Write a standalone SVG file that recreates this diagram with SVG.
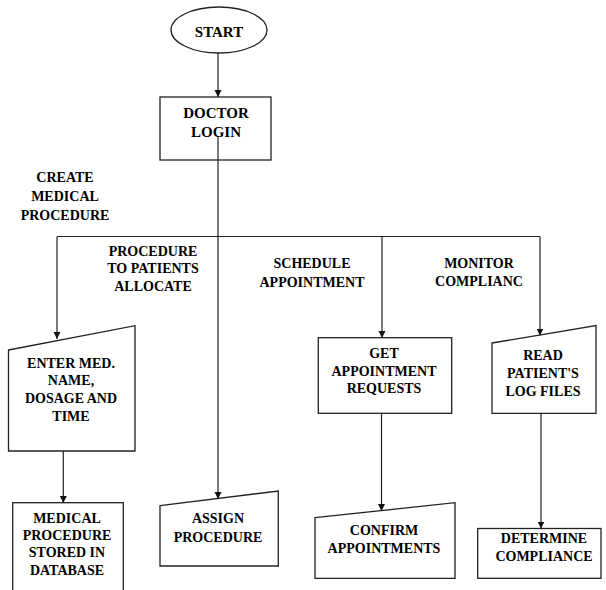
<svg xmlns="http://www.w3.org/2000/svg" width="606" height="590" viewBox="0 0 606 590">
  <defs>
    <marker id="arrow" markerUnits="userSpaceOnUse" markerWidth="8" markerHeight="8" refX="7" refY="3.5" orient="auto">
      <path d="M0,0 L7,3.5 L0,7 z" fill="#111"/>
    </marker>
  </defs>

  <rect width="606" height="590" fill="#fff"/>

  <!-- node outlines share one stroke -->
  <g fill="#fff" stroke="#222" stroke-width="1.3">
    <g id="start"><ellipse cx="219" cy="30" rx="48" ry="23"/></g>
    <g id="doctor-login"><rect x="160" y="97" width="111" height="63"/></g>
    <g id="enter-med"><polygon points="8.5,350 135,325.7 135,451 8.5,451"/></g>
    <g id="stored-in-db"><rect x="12.7" y="502.7" width="110.6" height="95"/></g>
    <g id="assign-procedure"><polygon points="160,505.7 278.3,491 278.3,566 160,566"/></g>
    <g id="get-requests"><rect x="318.3" y="337.7" width="133.4" height="75.6"/></g>
    <g id="confirm-appointments"><polygon points="315,517.7 455,502.7 455,578.3 315,578.3"/></g>
    <g id="read-logs"><polygon points="492,343 596,325.5 596,413.3 492,413.3"/></g>
    <g id="determine-compliance"><rect x="477.7" y="528.5" width="123.3" height="49.8"/></g>
  </g>

  <g id="labels">
    <text style="font-family:'Liberation Serif',serif;font-weight:bold;font-size:15px;text-anchor:middle" x="219" y="37">START</text>
    <text style="font-family:'Liberation Serif',serif;font-weight:bold;font-size:15px;text-anchor:middle" x="216" y="118">DOCTOR</text>
    <text style="font-family:'Liberation Serif',serif;font-weight:bold;font-size:15px;text-anchor:middle" x="216" y="137">LOGIN</text>

    <text style="font-family:'Liberation Serif',serif;font-weight:bold;font-size:14px;text-anchor:middle" x="71" y="368.3">ENTER MED.</text>
    <text style="font-family:'Liberation Serif',serif;font-weight:bold;font-size:14px;text-anchor:middle" x="71" y="385">NAME,</text>
    <text style="font-family:'Liberation Serif',serif;font-weight:bold;font-size:14px;text-anchor:middle" x="71" y="402.7">DOSAGE AND</text>
    <text style="font-family:'Liberation Serif',serif;font-weight:bold;font-size:14px;text-anchor:middle" x="71" y="420.7">TIME</text>

    <text style="font-family:'Liberation Serif',serif;font-weight:bold;font-size:14px;text-anchor:middle" x="67" y="522.7">MEDICAL</text>
    <text style="font-family:'Liberation Serif',serif;font-weight:bold;font-size:14px;text-anchor:middle" x="67" y="540">PROCEDURE</text>
    <text style="font-family:'Liberation Serif',serif;font-weight:bold;font-size:14px;text-anchor:middle" x="67" y="557.3">STORED IN</text>
    <text style="font-family:'Liberation Serif',serif;font-weight:bold;font-size:14px;text-anchor:middle" x="67" y="575">DATABASE</text>

    <text style="font-family:'Liberation Serif',serif;font-weight:bold;font-size:14px;text-anchor:middle" x="218" y="523.3">ASSIGN</text>
    <text style="font-family:'Liberation Serif',serif;font-weight:bold;font-size:14px;text-anchor:middle" x="218" y="541.7">PROCEDURE</text>

    <text style="font-family:'Liberation Serif',serif;font-weight:bold;font-size:14px;text-anchor:middle" x="384" y="357.7">GET</text>
    <text style="font-family:'Liberation Serif',serif;font-weight:bold;font-size:14px;text-anchor:middle" x="384" y="375.7">APPOINTMENT</text>
    <text style="font-family:'Liberation Serif',serif;font-weight:bold;font-size:14px;text-anchor:middle" x="384" y="393.3">REQUESTS</text>

    <text style="font-family:'Liberation Serif',serif;font-weight:bold;font-size:14px;text-anchor:middle" x="384" y="535">CONFIRM</text>
    <text style="font-family:'Liberation Serif',serif;font-weight:bold;font-size:14px;text-anchor:middle" x="384" y="553.3">APPOINTMENTS</text>

    <text style="font-family:'Liberation Serif',serif;font-weight:bold;font-size:14px;text-anchor:middle" x="543" y="360">READ</text>
    <text style="font-family:'Liberation Serif',serif;font-weight:bold;font-size:14px;text-anchor:middle" x="543" y="378.3">PATIENT'S</text>
    <text style="font-family:'Liberation Serif',serif;font-weight:bold;font-size:14px;text-anchor:middle" x="543" y="395.7">LOG FILES</text>

    <text style="font-family:'Liberation Serif',serif;font-weight:bold;font-size:14px;text-anchor:middle" x="544" y="543.3">DETERMINE</text>
    <text style="font-family:'Liberation Serif',serif;font-weight:bold;font-size:14px;text-anchor:middle" x="544" y="560.7">COMPLIANCE</text>

    <!-- branch labels along the distribution bus -->
    <text style="font-family:'Liberation Serif',serif;font-weight:bold;font-size:14px;text-anchor:middle" x="65" y="181.7">CREATE</text>
    <text style="font-family:'Liberation Serif',serif;font-weight:bold;font-size:14px;text-anchor:middle" x="65" y="200.7">MEDICAL</text>
    <text style="font-family:'Liberation Serif',serif;font-weight:bold;font-size:14px;text-anchor:middle" x="65" y="220">PROCEDURE</text>
    <text style="font-family:'Liberation Serif',serif;font-weight:bold;font-size:14px;text-anchor:middle" x="153" y="255.7">PROCEDURE</text>
    <text style="font-family:'Liberation Serif',serif;font-weight:bold;font-size:14px;text-anchor:middle" x="153" y="273.3">TO PATIENTS</text>
    <text style="font-family:'Liberation Serif',serif;font-weight:bold;font-size:14px;text-anchor:middle" x="153" y="291">ALLOCATE</text>
    <text style="font-family:'Liberation Serif',serif;font-weight:bold;font-size:14px;text-anchor:middle" x="312" y="268.3">SCHEDULE</text>
    <text style="font-family:'Liberation Serif',serif;font-weight:bold;font-size:14px;text-anchor:middle" x="312" y="286.7">APPOINTMENT</text>
    <text style="font-family:'Liberation Serif',serif;font-weight:bold;font-size:14px;text-anchor:middle" x="479" y="268">MONITOR</text>
    <text style="font-family:'Liberation Serif',serif;font-weight:bold;font-size:14px;text-anchor:middle" x="479" y="286">COMPLIANC</text>
  </g>

  <!-- connectors -->
  <g id="connectors" fill="none" stroke="#222" stroke-width="1.2">
    <line x1="218" y1="53" x2="218" y2="97" marker-end="url(#arrow)"/>
    <line x1="218" y1="137" x2="218" y2="499" marker-end="url(#arrow)"/>
    <line x1="57" y1="236.5" x2="540" y2="236.5"/>
    <polyline points="57,236.5 57,339" marker-end="url(#arrow)"/>
    <polyline points="382,236.5 382,338" marker-end="url(#arrow)"/>
    <polyline points="540,236.5 540,335.5" marker-end="url(#arrow)"/>
    <line x1="63.3" y1="451" x2="63.3" y2="503" marker-end="url(#arrow)"/>
    <line x1="381.5" y1="413.3" x2="381.5" y2="511" marker-end="url(#arrow)"/>
    <line x1="541" y1="413.3" x2="541" y2="528.5" marker-end="url(#arrow)"/>
  </g>
</svg>
